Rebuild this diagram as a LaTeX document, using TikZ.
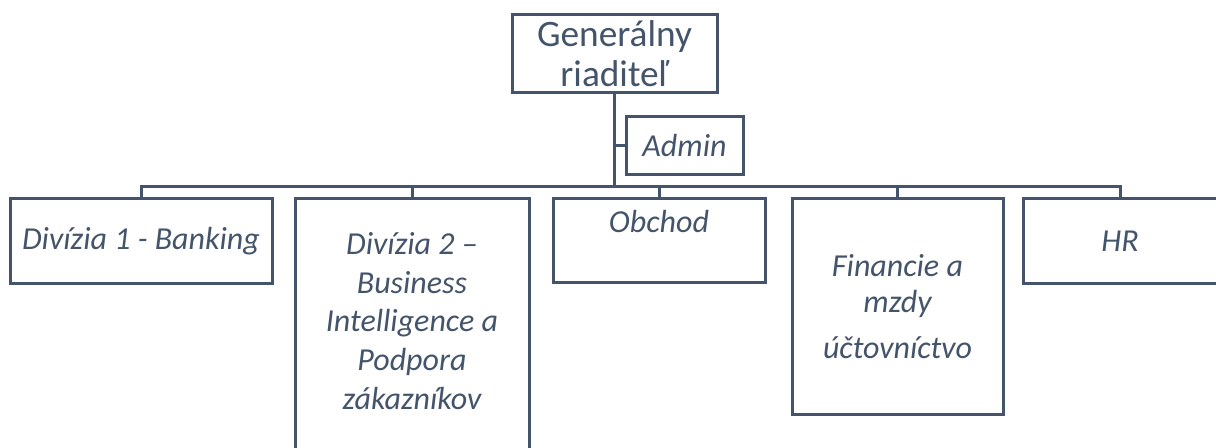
\documentclass[tikz,border=0pt]{standalone}
\usepackage{fontspec}
\setmainfont{Carlito}
\definecolor{slate}{HTML}{44546A}
\tikzset{
  unit/.style={draw=slate, line width=2.25pt, rectangle, inner sep=0pt,
    text=slate, align=center, font=\fontsize{24}{29}\selectfont\itshape},
  head/.style={unit, font=\fontsize{28}{30}\selectfont},
  link/.style={draw=slate, line width=2.25pt},
}
\begin{document}
\begin{tikzpicture}[x=0.75pt, y=-0.75pt]
  \useasboundingbox (0,0) rectangle (1216,448);
  \clip (0,0) rectangle (1216,448);

  %% --- vedenie ---
  \node[head, minimum width=153.75pt, minimum height=58.5pt] (gr) at (614.5,54)
    {Generálny\\riaditeľ};
  \node[unit, minimum width=87.75pt, minimum height=43.5pt] (admin) at (684.5,146)
    {Admin};

  %% --- divízie a oddelenia ---
  \node[unit, minimum width=196.5pt, minimum height=63.75pt] (d1) at (141,241.5)
    {Divízia 1 - Banking};
  \node[unit, minimum width=175.5pt, minimum height=211.5pt] (d2) at (412,340)
    {Divízia 2 –\\Business\\Intelligence a\\Podpora\\zákazníkov\\~};
  \node[unit, minimum width=159pt, minimum height=63pt] (ob) at (659,241)
    {Obchod\\~};
  \node[unit, minimum width=158.25pt, minimum height=162pt] (fin) at (897.5,307)
    {Financie a\\[-2.5pt]mzdy\\[6pt]účtovníctvo};
  \node[unit, minimum width=145.5pt, minimum height=63.75pt] (hr) at (1120,241.5)
    {HR};

  %% --- spojnice ---
  \coordinate (bus) at (614.5,187);
  \draw[link] (gr.south) -- (bus);
  \draw[link] (admin.west) -- (admin.west -| gr.south);
  \foreach \u in {d1,d2,ob,fin,hr}
    \draw[link] (bus) -| (\u.north);
\end{tikzpicture}
\end{document}
